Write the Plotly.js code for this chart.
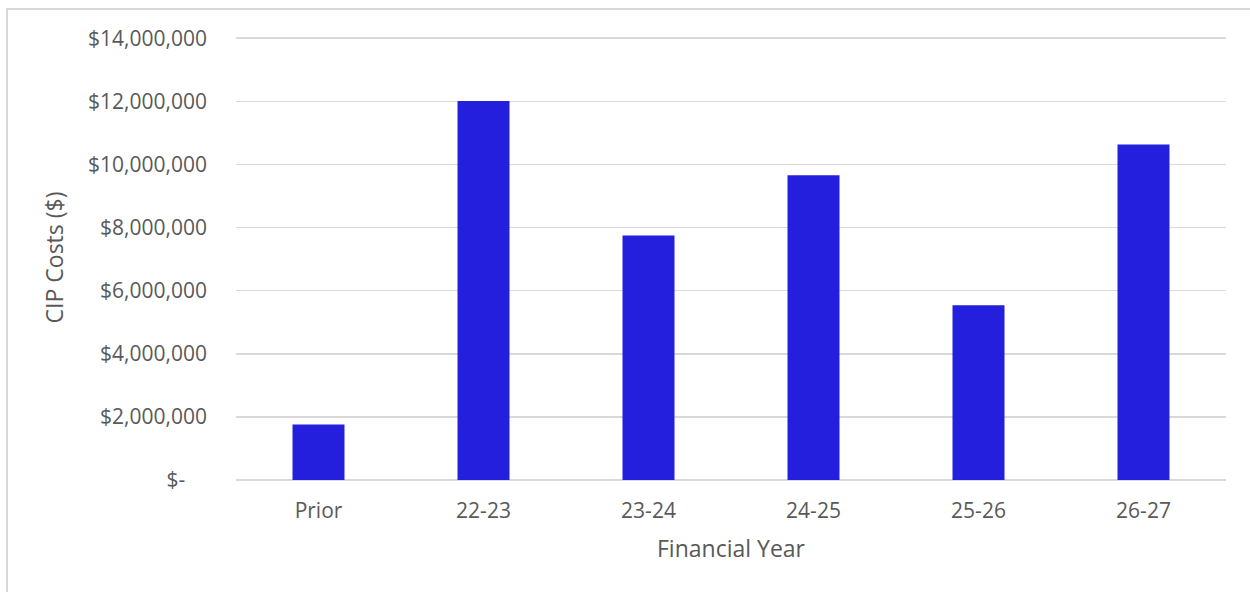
<!DOCTYPE html>
<html>
<head>
<meta charset="utf-8">
<script src="https://cdn.plot.ly/plotly-3.0.1.min.js"></script>
<style>
  html, body { margin: 0; padding: 0; background: #fff; }
  #wrap { position: relative; width: 1250px; height: 592px; overflow: hidden; }
  #chart { position: absolute; left: 0; top: 0; width: 1250px; height: 592px; }
  #frame { position: absolute; left: 6px; top: 8px; width: 1400px; height: 700px;
           border-left: 2px solid #d9d9d9; border-top: 2px solid #d9d9d9; pointer-events: none; }
</style>
</head>
<body>
<div id="wrap">
  <div id="chart"></div>
  <div id="frame"></div>
</div>
<script>
const categories = ["Prior", "22-23", "23-24", "24-25", "25-26", "26-27"];
const cipCosts = [1755000, 12010000, 7750000, 9660000, 5540000, 10630000];
const yTickValues = [0, 2000000, 4000000, 6000000, 8000000, 10000000, 12000000, 14000000];
const yTickLabels = ["$-\u00a0\u00a0\u00a0\u00a0", "$2,000,000", "$4,000,000", "$6,000,000", "$8,000,000", "$10,000,000", "$12,000,000", "$14,000,000"];

const FONT = "'Open Sans', 'Noto Sans', sans-serif";
const TXT = "#595959";

const trace = {
  type: "bar",
  x: categories,
  y: cipCosts,
  marker: { color: "#231fdc", line: { width: 0 } },
  hoverinfo: "none"
};

const layout = {
  width: 1250,
  height: 592,
  margin: { l: 236, r: 24, t: 35, b: 112 },
  paper_bgcolor: "#ffffff",
  plot_bgcolor: "#ffffff",
  showlegend: false,
  bargap: 0.685,
  font: { family: FONT, size: 21, color: TXT },
  xaxis: {
    type: "category",
    showgrid: false,
    showline: false,
    zeroline: false,
    ticks: "",
    ticklabelstandoff: 16,
    tickfont: { family: FONT, size: 21, color: TXT },
    title: { text: "Financial Year", font: { family: FONT, size: 23, color: TXT }, standoff: 17 }
  },
  yaxis: {
    range: [0, 14100000],
    tickmode: "array",
    tickvals: yTickValues,
    ticktext: yTickLabels,
    showgrid: true,
    gridcolor: "#d9d9d9",
    gridwidth: 1.5,
    zeroline: true,
    zerolinecolor: "#d9d9d9",
    zerolinewidth: 1.5,
    showline: false,
    ticks: "",
    ticklabelstandoff: 28,
    tickfont: { family: FONT, size: 21, color: TXT },
    title: { text: "CIP Costs ($)", font: { family: FONT, size: 23, color: TXT }, standoff: 18 }
  }
};

Plotly.newPlot("chart", [trace], layout, { staticPlot: true, displayModeBar: false });
</script>
</body>
</html>
